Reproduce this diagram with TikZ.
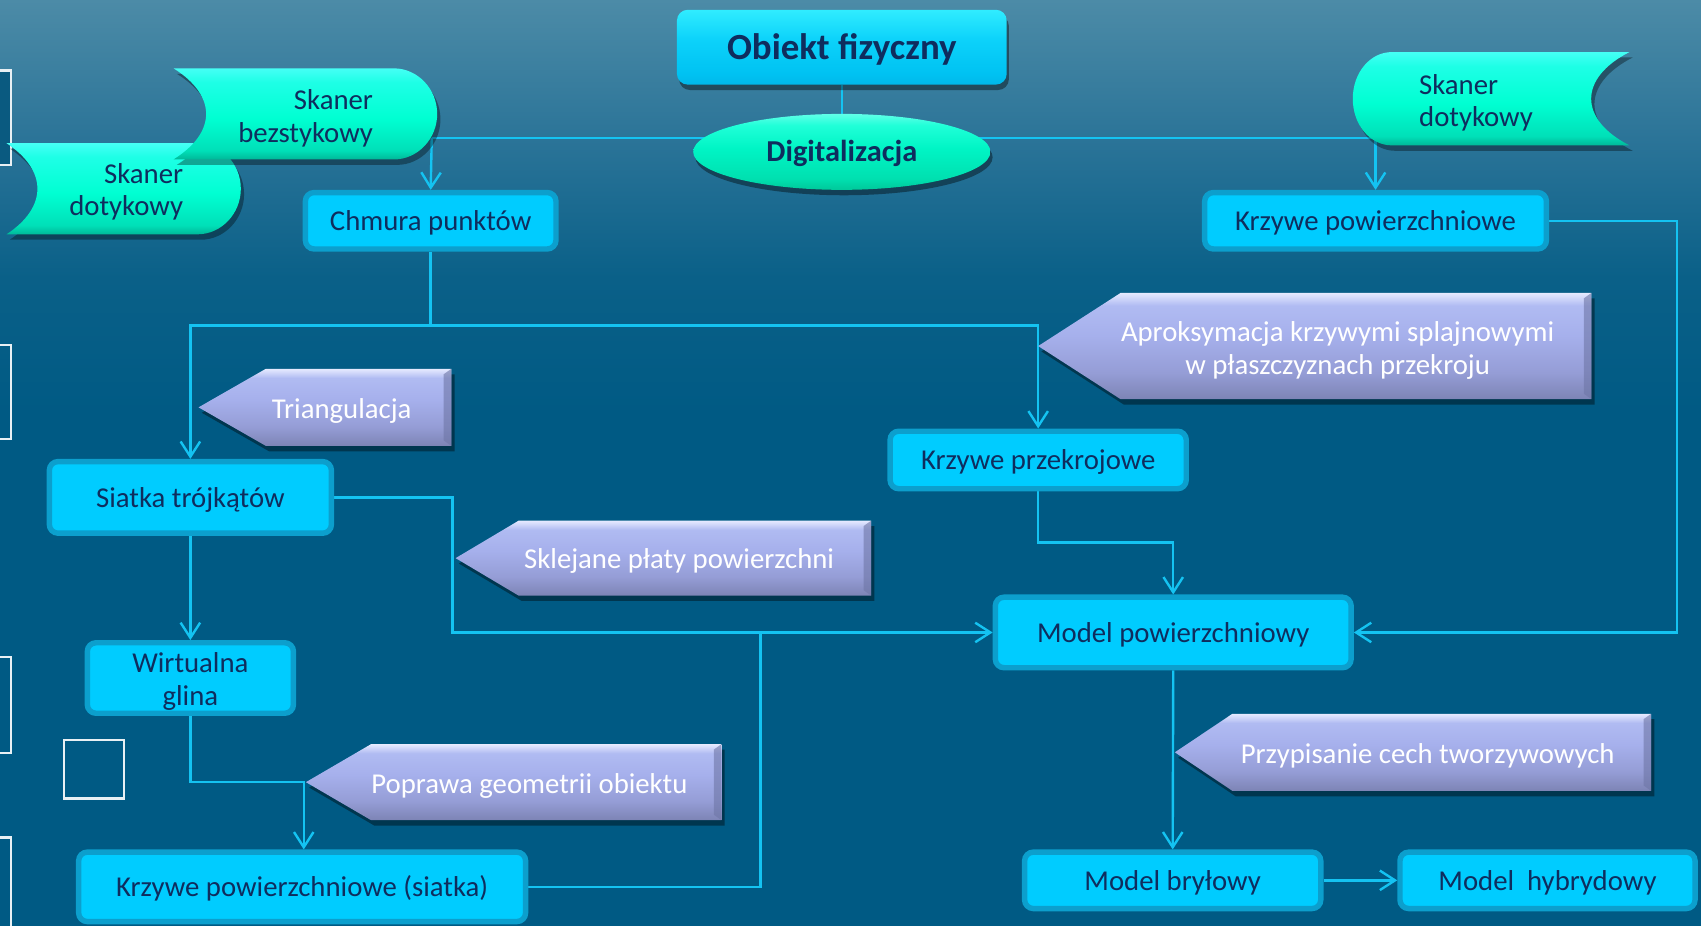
\documentclass[tikz,border=0pt]{standalone}
\usepackage{fontspec}
\setmainfont{Carlito}
\usetikzlibrary{arrows.meta,shadows,shapes.geometric}
\definecolor{bgA}{HTML}{005A84}
\definecolor{bgB}{HTML}{0A6088}
\definecolor{bgC}{HTML}{2B7498}
\definecolor{bgD}{HTML}{4C8BA7}
\definecolor{boxfill}{HTML}{00CCFF}
\definecolor{ring}{HTML}{0C9FCD}
\definecolor{navy}{HTML}{0F2D5E}
\definecolor{lineclr}{HTML}{14C3F2}
\definecolor{skA}{HTML}{00B898}
\definecolor{skB}{HTML}{00E0B8}
\definecolor{skC}{HTML}{00FFD2}
\definecolor{skD}{HTML}{1EFFE6}
\definecolor{skE}{HTML}{45FFF5}
\definecolor{caA}{HTML}{7D84B5}
\definecolor{caB}{HTML}{959DD6}
\definecolor{caC}{HTML}{A6B0EC}
\definecolor{caD}{HTML}{B0BBF2}
\definecolor{caE}{HTML}{E6EAFF}
\definecolor{calledge}{HTML}{6E76A6}
\definecolor{obA}{HTML}{00B8EA}
\definecolor{obB}{HTML}{00C2F2}
\definecolor{obC}{HTML}{0CD2FA}
\definecolor{obD}{HTML}{30ECFF}
\definecolor{dgA}{HTML}{00C89A}
\definecolor{dgB}{HTML}{00E0B0}
\definecolor{dgC}{HTML}{00F5C5}
\definecolor{dgD}{HTML}{20FFD8}
\definecolor{dgE}{HTML}{60FFE8}
\definecolor{rdark}{HTML}{0A5A80}
\definecolor{wline}{HTML}{E8F0F4}
\pgfdeclareverticalshading{bgsh}{100bp}{color(0bp)=(bgA); color(25bp)=(bgA); color(52.5bp)=(bgA); color(60bp)=(bgB); color(67.5bp)=(bgC); color(75bp)=(bgD); color(100bp)=(bgD)}
\pgfdeclareverticalshading{skansh}{100bp}{color(0bp)=(skA); color(25bp)=(skA); color(30bp)=(skB); color(47.5bp)=(skC); color(67.5bp)=(skD); color(75bp)=(skE); color(100bp)=(skE)}
\pgfdeclareverticalshading{callsh}{100bp}{color(0bp)=(caA); color(25bp)=(caA); color(37.5bp)=(caB); color(55bp)=(caC); color(69bp)=(caD); color(75bp)=(caE); color(100bp)=(caE)}
\pgfdeclareverticalshading{objsh}{100bp}{color(0bp)=(obA); color(25bp)=(obA); color(32.5bp)=(obB); color(55bp)=(obC); color(75bp)=(obD); color(100bp)=(obD)}
\pgfdeclareverticalshading{digsh}{100bp}{color(0bp)=(dgA); color(25bp)=(dgA); color(32.5bp)=(dgB); color(52.5bp)=(dgC); color(67.5bp)=(dgD); color(75bp)=(dgE); color(100bp)=(dgE)}
\pgfdeclarelayer{bglayer}
\pgfdeclarelayer{linelayer}
\pgfsetlayers{bglayer,linelayer,main}
\newcommand\txt{\fontsize{26.5}{30}\selectfont}
\newcommand\callshape[5]{%
  \fill[black,opacity=.4] ({#1+3},{(#3+#4)/2+5}) -- ({#1+#5+3},{#3+5}) -- ({#2+3},{#3+5}) -- ({#2+3},{#4+5}) -- ({#1+#5+3},{#4+5}) -- cycle;
  \shade[shading=callsh] (#1,{(#3+#4)/2}) -- ({#1+#5},#3) -- (#2,#3) -- (#2,#4) -- ({#1+#5},#4) -- cycle;
  \fill[calledge,opacity=.6] ({#2-7},{#3+5}) -- (#2,#3) -- (#2,#4) -- ({#2-7},{#4-5}) -- cycle;
}
\begin{document}
\begin{tikzpicture}[x=1pt,y=-1pt,
  box/.style={draw=ring, line width=5pt, fill=boxfill, rounded corners=8pt, text=navy, font=\txt, inner sep=0pt, align=center, text height=23pt, text depth=5pt},
  sktext/.style={text=navy, font=\txt, inner sep=0pt},
  calltext/.style={text=white, font=\txt, inner sep=0pt, align=center},
  oneline/.style={text height=23pt, text depth=5pt},
  conn/.style={draw=lineclr, line width=2.2pt},
  arr/.style={conn, -{Straight Barb[length=14pt,width=18pt]}},
  shadowed/.style={drop shadow={shadow xshift=2pt, shadow yshift=-5pt, opacity=.4, fill=black}}]
\useasboundingbox (0,0) rectangle (1568,853);
\begin{pgfonlayer}{bglayer}
\shade[shading=bgsh] (0,0) rectangle (1568,853);
\end{pgfonlayer}
% white leftover frames
\fill[rdark] (0,65) rectangle (10,152);
\draw[wline, line width=2pt] (0,65) -- (10,65) -- (10,152) -- (0,152);
\draw[wline, line width=2pt] (0,318) -- (10,318) -- (10,405) -- (0,405);
\draw[wline, line width=2pt] (0,606) -- (10,606) -- (10,694) -- (0,694);
\draw[wline, line width=2pt] (0,772) -- (10,772) -- (10,860);
\draw[wline, line width=2pt] (59,682) rectangle (114,736);
% top nodes
\node[shade, shading=objsh, shadowed, rounded corners=10pt, minimum width=304pt, minimum height=69pt, inner sep=0pt, text=navy, font=\fontsize{34}{40}\selectfont\bfseries, text height=30pt, text depth=7pt] (obiekt) at (776,43.5) {Obiekt fizyczny};
\node[ellipse, shade, shading=digsh, shadowed, minimum width=274pt, minimum height=70pt, inner sep=0pt, text=navy, font=\fontsize{28}{32}\selectfont\bfseries, text height=25pt, text depth=7pt] (digit) at (776,140) {Digitalizacja};
% scanners
\fill[black,opacity=.35,shift={(3,5)}] (6,132) -- (182,132) .. controls (204,132) and (222,151) .. (222,174) .. controls (222,197) and (204,216) .. (182,216) -- (6,216) .. controls (44,191) and (44,157) .. (6,132) -- cycle;
\shade[shading=skansh] (6,132) -- (182,132) .. controls (204,132) and (222,151) .. (222,174) .. controls (222,197) and (204,216) .. (182,216) -- (6,216) .. controls (44,191) and (44,157) .. (6,132) -- cycle;
\node[sktext, anchor=east, align=right] (skd1) at (169,177) {Skaner\\dotykowy};
\fill[black,opacity=.35,shift={(3,5)}] (160,63) -- (363,63) .. controls (385,63) and (403,82) .. (403,105) .. controls (403,128) and (385,147) .. (363,147) -- (160,147) .. controls (200,122) and (200,88) .. (160,63) -- cycle;
\shade[shading=skansh] (160,63) -- (363,63) .. controls (385,63) and (403,82) .. (403,105) .. controls (403,128) and (385,147) .. (363,147) -- (160,147) .. controls (200,122) and (200,88) .. (160,63) -- cycle;
\node[sktext, anchor=east, align=right] (skb) at (344,109) {Skaner\\bezstykowy};
\fill[black,opacity=.35,shift={(3,5)}] (1502,48) -- (1283,48) .. controls (1263,48) and (1247,67) .. (1247,91) .. controls (1247,115) and (1263,134) .. (1283,134) -- (1502,134) .. controls (1455,110) and (1455,72) .. (1502,48) -- cycle;
\shade[shading=skansh] (1502,48) -- (1283,48) .. controls (1263,48) and (1247,67) .. (1247,91) .. controls (1247,115) and (1263,134) .. (1283,134) -- (1502,134) .. controls (1455,110) and (1455,72) .. (1502,48) -- cycle;
\node[sktext, anchor=west, align=left] (skd2) at (1308,95) {Skaner\\dotykowy};
% callouts
\callshape{183}{416}{340}{411}{62}
\node[calltext, oneline] (tri) at (315,377) {Triangulacja};
\callshape{420}{803}{480}{549}{58}
\node[calltext, oneline] (sklej) at (626,515) {Sklejane płaty powierzchni};
\callshape{282}{665}{686}{756}{60}
\node[calltext, oneline] (popr) at (488,722) {Poprawa geometrii obiektu};
\callshape{957}{1467}{270}{368}{76}
\node[calltext] (aprox) at (1233,323) {Aproksymacja krzywymi splajnowymi\\w płaszczyznach przekroju};
\callshape{1083}{1522}{658}{729}{53}
\node[calltext, oneline] (przyp) at (1316,695) {Przypisanie cech tworzywowych};
% process boxes
\node[box, minimum width=231pt, minimum height=52pt] (chmura) at (397,203.5) {Chmura punktów};
\node[box, minimum width=315pt, minimum height=52pt] (krzpow) at (1268,203.5) {Krzywe powierzchniowe};
\node[box, minimum width=260pt, minimum height=66pt] (siatka) at (175.5,458.5) {Siatka trójkątów};
\node[box, minimum width=190pt, minimum height=65pt, text height=, text depth=] (glina) at (175.5,625) {};
\node[sktext, align=center] (glinat) at (175.5,628) {Wirtualna\\glina};
\node[box, minimum width=412pt, minimum height=64pt] (krzsiat) at (278.5,817.5) {Krzywe powierzchniowe (siatka)};
\node[box, minimum width=273pt, minimum height=53pt] (przekr) at (957,424) {Krzywe przekrojowe};
\node[box, minimum width=328pt, minimum height=65pt] (modpow) at (1081.5,583) {Model powierzchniowy};
\node[box, minimum width=273pt, minimum height=52pt] (bryl) at (1081,811.5) {Model bryłowy};
\node[box, minimum width=272pt, minimum height=52pt] (hybr) at (1426.5,811.5) {Model\ \ hybrydowy};
% connectors
\coordinate (dl) at (398,127);
\coordinate (dr) at (1268,127);
\coordinate (c1) at (397,300);
\coordinate (s1) at (417,520);
\coordinate (k1) at (701,583);
\coordinate (j3) at (280,721);
\coordinate (p1) at (1019,500);
\coordinate (r1) at (1546,400);
\begin{pgfonlayer}{linelayer}
\draw[conn] (obiekt.south) -- (digit.north);
\draw[conn] (dl) -- (dr);
\draw[arr] (dl) -- (chmura.north);
\draw[arr] (dr) -- (krzpow.north);
\draw[conn] (chmura.south) -- (c1);
\draw[arr] (c1) -| (siatka.north);
\draw[arr] (c1) -| (przekr.north);
\draw[arr] (siatka.east) -| (s1) |- (modpow.west);
\draw[conn] (krzsiat.east) -| (k1);
\draw[arr] (siatka.south) -- (glina.north);
\draw[arr] (glina.south) |- (j3) -- (j3 |- krzsiat.north);
\draw[arr] (przekr.south) |- (p1) -| (modpow.north);
\draw[arr] (krzpow.east) -| (r1) |- (modpow.east);
\draw[arr] (modpow.south) -- (bryl.north);
\draw[arr] (bryl.east) -- (hybr.west);
\end{pgfonlayer}
\end{tikzpicture}
\end{document}
